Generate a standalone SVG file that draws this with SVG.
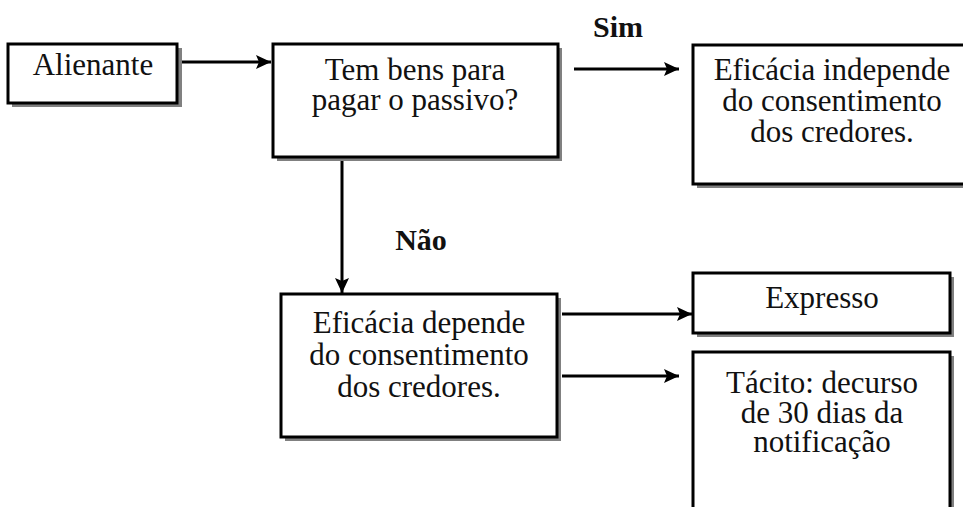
<svg xmlns="http://www.w3.org/2000/svg" width="963" height="507" viewBox="0 0 963 507">
<style>
.box{fill:#fff;stroke:#000;stroke-width:3}
.sh{fill:#808080}
.t{font-family:"Liberation Serif","Times New Roman",serif;font-size:31px;fill:#111;text-anchor:middle}
.b{font-weight:bold;font-size:30px}
.ln{stroke:#000;stroke-width:3;fill:none}
</style>
<defs>
<marker id="ah" markerWidth="16" markerHeight="14" refX="15" refY="7" orient="auto" markerUnits="userSpaceOnUse">
<path d="M0,0 L15,7 L0,14 L3,7 Z" fill="#000"/>
</marker>
</defs>
<rect width="963" height="507" fill="#fff"/>
<g id="connectors">
<line class="ln" x1="178" y1="62" x2="271" y2="62" marker-end="url(#ah)"/>
<line class="ln" x1="574" y1="69" x2="679" y2="69" marker-end="url(#ah)"/>
<line class="ln" x1="342" y1="157" x2="342" y2="293" marker-end="url(#ah)"/>
<line class="ln" x1="562" y1="314" x2="692" y2="314" marker-end="url(#ah)"/>
<line class="ln" x1="562" y1="376" x2="679" y2="376" marker-end="url(#ah)"/>
<text class="t b" x="618" y="37">Sim</text>
<text class="t b" x="421" y="250">Não</text>
</g>
<g id="alienante">
<rect class="sh" x="12" y="48" width="170" height="59"/>
<rect class="box" x="8" y="44" width="169" height="59"/>
<text class="t" x="93" y="75">Alienante</text>
</g>
<g id="tem-bens">
<rect class="sh" x="277" y="48" width="285" height="113"/>
<rect class="box" x="273" y="44" width="285" height="113"/>
<text class="t" x="415" y="80">Tem bens para</text>
<text class="t" x="415" y="110">pagar o passivo?</text>
</g>
<g id="independe">
<rect class="sh" x="697" y="49" width="290" height="139"/>
<rect class="box" x="693" y="45" width="290" height="139"/>
<text class="t" x="832" y="80">Eficácia independe</text>
<text class="t" x="832" y="111">do consentimento</text>
<text class="t" x="832" y="142">dos credores.</text>
</g>
<g id="depende">
<rect class="sh" x="285" y="298" width="276" height="143"/>
<rect class="box" x="281" y="294" width="276" height="143"/>
<text class="t" x="419" y="333">Eficácia depende</text>
<text class="t" x="419" y="365">do consentimento</text>
<text class="t" x="419" y="397">dos credores.</text>
</g>
<g id="expresso">
<rect class="sh" x="697" y="277" width="257" height="60"/>
<rect class="box" x="693" y="273" width="257" height="60"/>
<text class="t" x="822" y="308">Expresso</text>
</g>
<g id="tacito">
<rect class="sh" x="697" y="356" width="257" height="170"/>
<rect class="box" x="693" y="352" width="257" height="170"/>
<text class="t" x="822" y="393">Tácito: decurso</text>
<text class="t" x="822" y="423">de 30 dias da</text>
<text class="t" x="822" y="452">notificação</text>
</g>
</svg>
